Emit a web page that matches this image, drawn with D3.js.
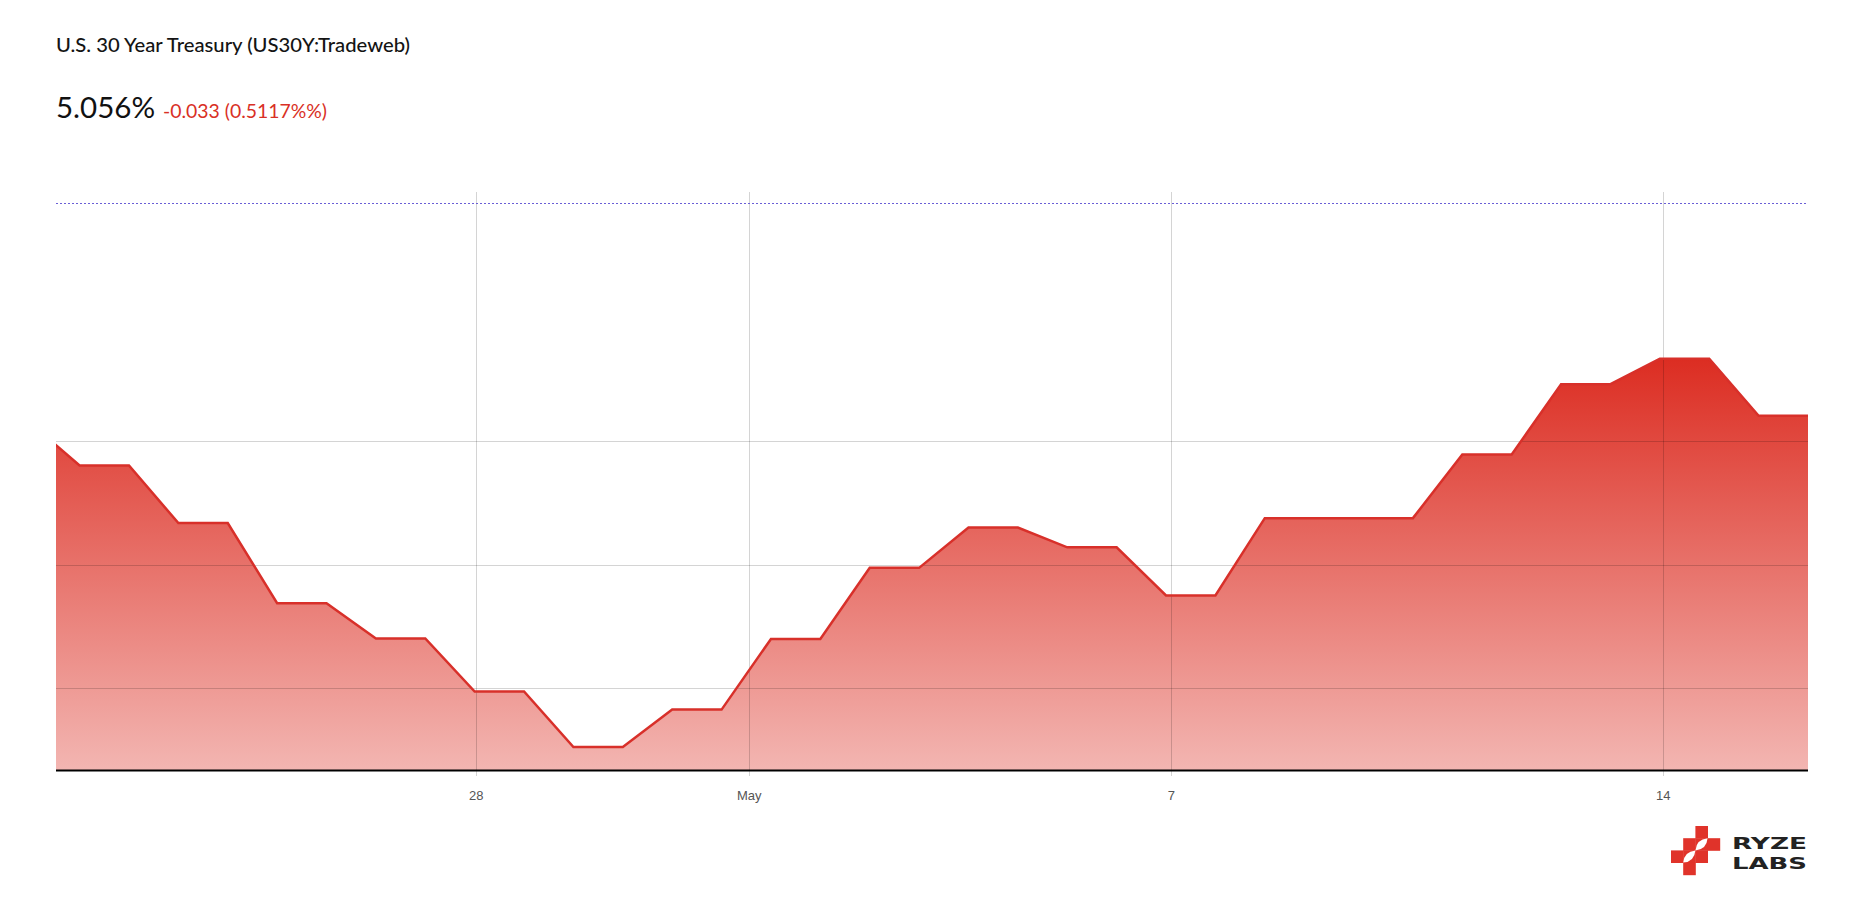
<!DOCTYPE html>
<html>
<head>
<meta charset="utf-8">
<script src="https://cdn.jsdelivr.net/npm/d3@7"></script>
<style>
  html, body { margin: 0; padding: 0; background: #fff; }
  svg { display: block; }
</style>
</head>
<body>
<div id="chart"></div>
<script>
// ---------------- DATA ----------------
const titleText = "U.S. 30 Year Treasury (US30Y:Tradeweb)";
const lastValueText = "5.056%";
const changeText = "-0.033 (0.5117%%)";

// sample index of each point (uniform sessions); first point is clipped at the left edge
const pointIndex = [-1, 0, 1, 2, 3, 4, 5, 6, 7, 8, 9, 10, 11, 12, 13, 14, 15, 16, 17, 18,
  19, 20, 21, 22, 23, 24, 25, 26, 27, 28, 29, 30, 31, 32, 33, 34, 35];
// yield, %
const yields = [5.0545, 5.0441, 5.0441, 5.0301, 5.0301, 5.0106, 5.0106, 5.0020, 5.0020,
  4.9891, 4.9891, 4.9756, 4.9756, 4.9847, 4.9847, 5.0019, 5.0019, 5.0192, 5.0192,
  5.0290, 5.0290, 5.0242, 5.0242, 5.0125, 5.0125, 5.0313, 5.0313, 5.0313, 5.0313,
  5.0468, 5.0468, 5.0639, 5.0639, 5.0701, 5.0701, 5.0562, 5.0562];

const xDomain = [-0.478, 35];
const yDomain = [4.97, 5.108];
const yGridValues = [4.99, 5.02, 5.05];
const xTickIndex = [8.02, 13.55, 22.1, 32.06];
const xTickLabels = ["28", "May", "7", "14"];
const logoWords = ["RYZE", "LABS"];

// ---------------- LAYOUT ----------------
const W = 1872, H = 923;
const plot = { left: 56, right: 1808, top: 203, bottom: 770 };

const svg = d3.select("#chart").append("svg")
  .attr("width", W).attr("height", H)
  .attr("viewBox", `0 0 ${W} ${H}`);

const x = d3.scaleLinear().domain(xDomain).range([plot.left, plot.right]);
const y = d3.scaleLinear().domain(yDomain).range([plot.bottom, plot.top]);

const data = pointIndex.map((k, i) => ({ k, v: yields[i] }));

// ---------------- HEADER ----------------
svg.append("text")
  .attr("x", 56).attr("y", 51.5)
  .attr("font-family", "Lato, 'Open Sans', sans-serif")
  .attr("font-size", 19.4).attr("font-weight", 500)
  .attr("textLength", 354).attr("lengthAdjust", "spacingAndGlyphs")
  .attr("fill", "#141414")
  .text(titleText);

const hdr = svg.append("text")
  .attr("x", 56).attr("y", 117.5)
  .attr("font-family", "Lato, 'Open Sans', sans-serif");
hdr.append("tspan").attr("font-size", 29.5).attr("fill", "#111").text(lastValueText);
hdr.append("tspan").attr("dx", 8).attr("font-size", 19.4).attr("fill", "#d93025").text(changeText);

// ---------------- DEFS ----------------
const defs = svg.append("defs");
defs.append("clipPath").attr("id", "plotClip")
  .append("rect")
  .attr("x", plot.left).attr("y", plot.top - 5)
  .attr("width", plot.right - plot.left).attr("height", plot.bottom - plot.top + 5);

const grad = defs.append("linearGradient")
  .attr("id", "areaGrad")
  .attr("gradientUnits", "userSpaceOnUse")
  .attr("x1", 0).attr("x2", 0)
  .attr("y1", y(d3.max(yields))).attr("y2", y(yDomain[0]));
grad.append("stop").attr("offset", "0%").attr("stop-color", "#dc2d22").attr("stop-opacity", 1);
grad.append("stop").attr("offset", "100%").attr("stop-color", "#dc2d22").attr("stop-opacity", 0.35);

// ---------------- AREA ----------------
const area = d3.area()
  .x(d => x(d.k))
  .y0(y(yDomain[0]))
  .y1(d => y(d.v));

svg.append("path")
  .datum(data)
  .attr("clip-path", "url(#plotClip)")
  .attr("d", area)
  .attr("fill", "url(#areaGrad)");

// ---------------- GRID ----------------
const grid = svg.append("g");
grid.selectAll("line.h")
  .data(yGridValues)
  .join("line")
  .attr("class", "h")
  .attr("x1", plot.left).attr("x2", plot.right)
  .attr("y1", d => Math.round(y(d)) + 0.5).attr("y2", d => Math.round(y(d)) + 0.5)
  .attr("stroke", "rgba(0,0,0,0.17)").attr("stroke-width", 1);

grid.selectAll("line.v")
  .data(xTickIndex)
  .join("line")
  .attr("class", "v")
  .attr("x1", d => Math.round(x(d)) + 0.5).attr("x2", d => Math.round(x(d)) + 0.5)
  .attr("y1", 192).attr("y2", plot.bottom + 6)
  .attr("stroke", "rgba(0,0,0,0.17)").attr("stroke-width", 1);

// dotted reference line at the top
svg.append("line")
  .attr("x1", plot.left).attr("x2", plot.right)
  .attr("y1", Math.round(y(yDomain[1])) + 0.5).attr("y2", Math.round(y(yDomain[1])) + 0.5)
  .attr("stroke", "#6a5fd6").attr("stroke-width", 1)
  .attr("stroke-dasharray", "2,2");

// ---------------- LINE ----------------
const line = d3.line()
  .x(d => x(d.k))
  .y(d => y(d.v));

svg.append("path")
  .datum(data)
  .attr("clip-path", "url(#plotClip)")
  .attr("d", line)
  .attr("fill", "none")
  .attr("stroke", "#d8302a")
  .attr("stroke-width", 2.5)
  .attr("stroke-linejoin", "miter");

// ---------------- X AXIS ----------------
const xAxis = d3.axisBottom(x)
  .tickValues(xTickIndex)
  .tickFormat((d, i) => xTickLabels[i])
  .tickSize(0)
  .tickPadding(21);

const gx = svg.append("g")
  .attr("transform", `translate(0,${plot.bottom})`)
  .call(xAxis);
gx.select(".domain").remove();
gx.selectAll("text")
  .attr("font-family", "'Liberation Sans', Arial, sans-serif")
  .attr("font-size", 13)
  .attr("fill", "#555");

svg.append("line")
  .attr("x1", plot.left).attr("x2", plot.right)
  .attr("y1", plot.bottom + 0.5).attr("y2", plot.bottom + 0.5)
  .attr("stroke", "#000").attr("stroke-width", 2);

// ---------------- LOGO ----------------
const logo = svg.append("g").attr("transform", "translate(1671,826)");
const c = 12.2;
const cells = [[2,0],[1,1],[2,1],[3,1],[0,2],[1,2],[2,2],[1,3]];
logo.selectAll("rect.cell")
  .data(cells)
  .join("rect")
  .attr("class", "cell")
  .attr("x", d => d[0] * c).attr("y", d => d[1] * c)
  .attr("width", c + 0.4).attr("height", c + 0.4)
  .attr("fill", "#e0332a");
// white lens cut-outs at the centres of the two crosses
[[2,1],[1,2]].forEach(([cx, cy]) => {
  const x0 = cx * c, y0 = cy * c;
  logo.append("path")
    .attr("d", `M${x0},${y0 + c} Q${x0 + 1},${y0 + 1} ${x0 + c},${y0} Q${x0 + c - 1},${y0 + c - 1} ${x0},${y0 + c}Z`)
    .attr("fill", "#fff");
});
logoWords.forEach((t, i) => {
  svg.append("text")
    .attr("x", 1732).attr("y", 849 + i * 19.6)
    .attr("font-family", "'DejaVu Sans', sans-serif")
    .attr("font-size", 16.4).attr("font-weight", 700)
    .attr("textLength", 75).attr("lengthAdjust", "spacingAndGlyphs")
    .attr("fill", "#222")
    .text(t);
});
</script>
</body>
</html>
